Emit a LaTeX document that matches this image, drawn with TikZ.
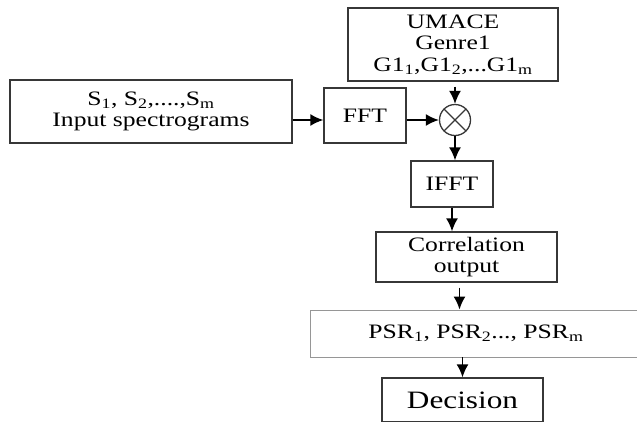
\documentclass[tikz,border=0pt]{standalone}
\usepackage{fontspec}
\setmainfont{Liberation Serif}[FakeStretch=1.25]
\usepackage{tikz}
\usetikzlibrary{positioning, arrows.meta}
\definecolor{boxgray}{RGB}{55,55,55}
\definecolor{thingray}{RGB}{150,150,150}

\begin{document}
\begin{tikzpicture}[
  x=1pt, y=-1pt,
  box/.style={rectangle, draw=boxgray, line width=1.3pt, fill=white,
              align=center, inner sep=0pt,
              font=\fontsize{20.5}{21.5}\selectfont},
  thinbox/.style={box, draw=thingray, line width=0.9pt},
  mix/.style={circle, draw=boxgray, line width=1.3pt, minimum size=31pt,
              inner sep=0pt,
              path picture={\draw[line width=1.1pt]
                (path picture bounding box.north west) -- (path picture bounding box.south east)
                (path picture bounding box.north east) -- (path picture bounding box.south west);}},
  arr/.style={-{Latex[length=13pt, width=12pt]}, line width=1.7pt, color=black},
]
  \useasboundingbox (0,0) rectangle (637,421);

  \node[box, minimum width=282pt, minimum height=63pt] (inp) at (151,111.5)
    {S\textsubscript{1}, S\textsubscript{2},....,S\textsubscript{m}\\Input spectrograms};
  \node[box, minimum width=82pt, minimum height=55pt] (fft) at (365,115.5) {FFT};
  \node[box, minimum width=210pt, minimum height=73pt] (umace) at (453,44.5)
    {UMACE\\Genre1\\G1\textsubscript{1},G1\textsubscript{2},...G1\textsubscript{m}};
  \node[mix] (mult) at (455,120) {};
  \node[box, minimum width=82pt, minimum height=46pt] (ifft) at (452,184) {IFFT};
  \node[box, minimum width=181pt, minimum height=50pt] (corr) at (466.5,257)
    {Correlation\\output};
  \node[thinbox, minimum width=332pt, minimum height=47pt] (psr) at (476,333.5)
    {PSR\textsubscript{1}, PSR\textsubscript{2}..., PSR\textsubscript{m}};
  \node[box, minimum width=161pt, minimum height=44pt,
        font=\fontsize{25}{25}\selectfont] (dec) at (462.5,400) {Decision};

  \draw[arr] (inp.east |- mult) -- (fft.west |- mult);
  \draw[arr] (fft.east |- mult) -- (mult.west);
  \draw[arr, shorten <=5pt] (mult |- umace.south) -- (mult.north);
  \draw[arr] (mult.south) -- (mult |- ifft.north);
  \draw[arr] (ifft.south) -- (ifft.south |- corr.north);
  \draw[arr, shorten <=5pt] ([xshift=-7pt]corr.south) -- ([xshift=-7pt]corr.south |- psr.north);
  \draw[arr] (psr.south -| dec) -- (dec.north);
\end{tikzpicture}
\end{document}
